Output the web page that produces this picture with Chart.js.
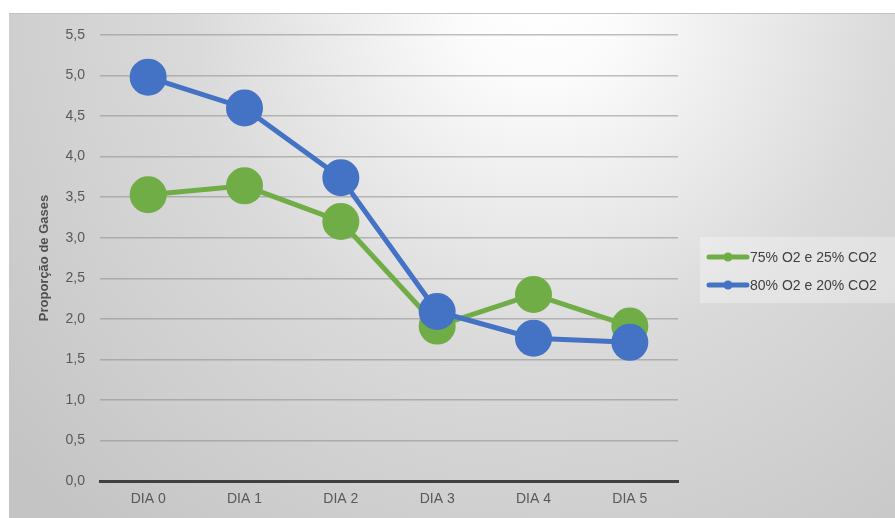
<!DOCTYPE html>
<html>
<head>
<meta charset="utf-8">
<script src="https://cdn.jsdelivr.net/npm/chart.js@4/dist/chart.umd.min.js"></script>
<style>
  html, body { margin: 0; padding: 0; background: #ffffff; }
  #wrap { width: 895px; height: 518px; position: relative; }
</style>
</head>
<body>
<div id="wrap"><canvas id="chart" width="895" height="518"></canvas></div>
<script>
// Days of storage
const categories = ['DIA 0', 'DIA 1', 'DIA 2', 'DIA 3', 'DIA 4', 'DIA 5'];
// Gas proportion per atmosphere
const seriesNames = ['75% O2 e 25% CO2', '80% O2 e 20% CO2'];
const values75 = [3.53, 3.64, 3.20, 1.91, 2.30, 1.91];
const values80 = [4.98, 4.60, 3.74, 2.09, 1.76, 1.71];
const yTicks = [0, 0.5, 1, 1.5, 2, 2.5, 3, 3.5, 4, 4.5, 5, 5.5];
const yTitle = 'Proporção de Gases';

const GREEN = '#70ad47';
const BLUE = '#4472c4';
const FONT = "'Liberation Sans', 'DejaVu Sans', sans-serif";

// Soft grey gradient panel behind the whole chart
const panelBackground = {
  id: 'panelBackground',
  beforeDraw(chart) {
    const ctx = chart.ctx;
    const x0 = 9, y0 = 13, w = chart.width - x0, h = chart.height - y0;
    ctx.save();
    const g = ctx.createRadialGradient(540, 0, 0, 540, 0, 700);
    g.addColorStop(0, '#ffffff');
    g.addColorStop(0.12, '#fbfbfb');
    g.addColorStop(0.5, '#dadada');
    g.addColorStop(1, '#c4c4c4');
    ctx.fillStyle = g;
    ctx.fillRect(x0, y0, w, h);
    ctx.fillStyle = '#c2c2c2';
    ctx.fillRect(x0, y0, w, 1);
    ctx.restore();
  }
};

// Legend box on the right with line + marker swatches
const sideLegend = {
  id: 'sideLegend',
  afterDraw(chart) {
    const ctx = chart.ctx;
    const bx = 700, by = 237, bw = 195, bh = 66;
    ctx.save();
    ctx.fillStyle = 'rgba(255,255,255,0.3)';
    ctx.fillRect(bx, by, bw, bh);
    chart.data.datasets.forEach((ds, i) => {
      const y = by + 20 + i * 28;
      ctx.strokeStyle = ds.borderColor;
      ctx.lineWidth = 5;
      ctx.lineCap = 'round';
      ctx.beginPath();
      ctx.moveTo(709, y);
      ctx.lineTo(747, y);
      ctx.stroke();
      ctx.fillStyle = ds.borderColor;
      ctx.beginPath();
      ctx.arc(728, y, 4.5, 0, Math.PI * 2);
      ctx.fill();
      ctx.fillStyle = '#404040';
      ctx.font = '14px ' + FONT;
      ctx.textBaseline = 'middle';
      ctx.textAlign = 'left';
      ctx.fillText(ds.label, 750, y + 1);
    });
    ctx.restore();
  }
};

const makeSeries = (label, data, color, order) => ({
  label,
  data,
  order,
  borderColor: color,
  backgroundColor: color,
  pointBackgroundColor: color,
  pointBorderColor: color,
  borderWidth: 5,
  pointRadius: 16,
  pointHoverRadius: 16,
  tension: 0,
  fill: false
});

new Chart(document.getElementById('chart'), {
  type: 'line',
  data: {
    labels: categories,
    datasets: [
      makeSeries(seriesNames[0], values75, GREEN, 1),
      makeSeries(seriesNames[1], values80, BLUE, 0)
    ]
  },
  options: {
    responsive: false,
    animation: false,
    layout: { padding: { left: 0, right: 217, top: 35, bottom: 0 } },
    plugins: {
      legend: { display: false },
      tooltip: { enabled: false }
    },
    scales: {
      x: {
        offset: true,
        grid: { display: false, drawTicks: false },
        border: { display: true, color: '#404040', width: 3 },
        ticks: { color: '#595959', font: { family: FONT, size: 14 }, padding: 10 },
        afterFit(scale) { scale.height = 37; }
      },
      y: {
        min: 0,
        max: 5.5,
        afterBuildTicks(scale) { scale.ticks = yTicks.map(v => ({ value: v })); },
        grid: {
          color: ctx => ctx.tick && ctx.tick.value === 0 ? 'rgba(0,0,0,0)' : 'rgba(140,140,140,0.55)',
          lineWidth: 1.5,
          drawTicks: false
        },
        border: { display: false },
        ticks: {
          color: '#595959',
          font: { family: FONT, size: 14 },
          padding: 15,
          callback: v => Number(v).toFixed(1).replace('.', ',')
        },
        title: {
          display: true,
          text: yTitle,
          color: '#505050',
          font: { family: FONT, size: 13, weight: 'bold' },
          padding: { top: 37, bottom: 0 }
        },
        afterFit(scale) { scale.width = 100; }
      }
    }
  },
  plugins: [panelBackground, sideLegend]
});
</script>
</body>
</html>
